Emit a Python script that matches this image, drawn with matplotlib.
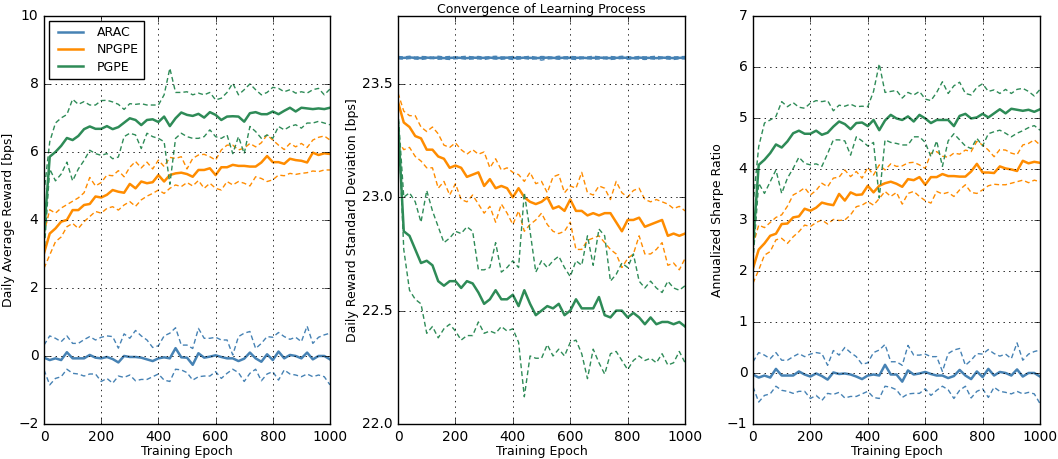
import numpy as np
import matplotlib
matplotlib.use("Agg")
import matplotlib.pyplot as plt

# epochs at which the learning curves were sampled
epochs = np.arange(0, 1001, 20)

# ---- Daily average reward [bps] ----
arac_rew = [-0.05, -0.12, -0.07, -0.12, 0.11, -0.07, -0.07, -0.07, 0.03, -0.05, -0.07, -0.03, -0.09,
            -0.19, 0.0, -0.03, -0.03, -0.05, -0.1, -0.15, -0.07, -0.04, -0.07, 0.23, -0.04, -0.05,
            -0.26, 0.08, -0.05, -0.02, 0.02, -0.03, -0.07, -0.07, -0.15, -0.08, 0.1, -0.07, -0.17,
            0.05, -0.12, 0.13, -0.07, 0.03, 0.0, -0.07, 0.1, -0.1, 0.0, 0.0, -0.1]
arac_rew_hi = [0.32, 0.59, 0.52, 0.42, 0.59, 0.37, 0.37, 0.48, 0.57, 0.47, 0.55, 0.59, 0.57, 0.23,
               0.65, 0.52, 0.75, 0.59, 0.47, 0.25, 0.3, 0.59, 0.67, 0.83, 0.32, 0.32, 0.22, 0.81,
               0.52, 0.52, 0.55, 0.47, 0.47, 0.03, 0.57, 0.67, 0.72, 0.22, 0.37, 0.57, 0.55, 0.69,
               0.57, 0.49, 0.55, 0.42, 0.88, 0.37, 0.55, 0.62, 0.67]
arac_rew_lo = [-0.41, -0.85, -0.66, -0.61, -0.39, -0.51, -0.53, -0.59, -0.53, -0.53, -0.75, -0.66,
               -0.8, -0.59, -0.63, -0.56, -0.73, -0.69, -0.69, -0.61, -0.53, -0.71, -0.75, -0.39,
               -0.41, -0.49, -0.71, -0.61, -0.59, -0.59, -0.46, -0.66, -0.51, -0.39, -0.49, -0.75,
               -0.51, -0.39, -0.73, -0.53, -0.46, -0.71, -0.41, -0.53, -0.56, -0.61, -0.53, -0.61,
               -0.56, -0.61, -0.85]
npgpe_rew = [3.02, 3.6, 3.75, 3.95, 4.0, 4.29, 4.29, 4.44, 4.47, 4.69, 4.66, 4.74, 4.88, 4.83, 4.8,
             5.06, 4.93, 5.13, 5.08, 5.11, 5.32, 5.13, 5.32, 5.37, 5.39, 5.35, 5.27, 5.47, 5.47, 5.52,
             5.32, 5.55, 5.55, 5.62, 5.59, 5.59, 5.57, 5.57, 5.69, 5.88, 5.7, 5.7, 5.65, 5.8, 5.76,
             5.74, 5.69, 5.98, 5.91, 5.96, 5.94]
npgpe_rew_hi = [3.6, 4.3, 4.2, 4.35, 4.45, 4.55, 4.65, 4.8, 5.25, 5.0, 5.1, 5.32, 5.3, 5.45, 5.27,
                5.55, 5.72, 5.53, 5.7, 5.5, 5.76, 5.57, 5.84, 5.81, 5.86, 5.5, 5.81, 5.91, 5.93, 5.86,
                5.76, 6.06, 6.2, 6.2, 6.06, 6.11, 6.25, 6.15, 6.27, 6.5, 6.35, 6.2, 6.07, 6.25, 6.15,
                6.25, 6.13, 6.35, 6.43, 6.47, 6.35]
npgpe_rew_lo = [2.58, 2.97, 3.36, 3.5, 3.8, 3.9, 3.75, 3.95, 4.1, 4.25, 4.2, 4.34, 4.39, 4.29, 4.44,
                4.54, 4.4, 4.59, 4.7, 4.78, 4.88, 4.78, 4.93, 5.03, 4.98, 5.1, 5.0, 5.16, 4.93, 5.08,
                4.93, 4.88, 5.13, 5.03, 5.13, 5.08, 5.0, 5.27, 5.22, 5.13, 5.18, 5.32, 5.3, 5.37, 5.34,
                5.37, 5.39, 5.44, 5.42, 5.47, 5.47]
pgpe_rew = [3.6, 5.86, 6.0, 6.18, 6.41, 6.35, 6.47, 6.67, 6.75, 6.68, 6.68, 6.76, 6.67, 6.73, 6.86,
            6.99, 6.94, 6.79, 6.94, 6.96, 6.88, 7.04, 6.76, 6.99, 7.16, 7.09, 7.06, 7.12, 7.01, 7.17,
            7.09, 6.94, 7.04, 7.05, 7.04, 6.89, 7.14, 7.17, 7.11, 7.11, 7.19, 7.11, 7.21, 7.3, 7.19,
            7.3, 7.28, 7.26, 7.28, 7.26, 7.3]
pgpe_rew_hi = [4.8, 6.3, 6.85, 7.0, 7.1, 7.55, 7.4, 7.48, 7.38, 7.38, 7.51, 7.52, 7.47, 7.4, 7.25,
               7.42, 7.4, 7.42, 7.38, 7.38, 7.38, 7.68, 8.46, 7.75, 7.75, 7.77, 7.68, 7.73, 7.68, 7.75,
               7.53, 7.58, 7.75, 8.02, 7.68, 7.83, 8.0, 7.83, 7.68, 7.75, 7.9, 7.87, 7.77, 7.83, 7.73,
               7.77, 7.73, 7.83, 7.87, 7.68, 7.85]
pgpe_rew_lo = [3.0, 5.5, 5.15, 5.35, 5.7, 5.15, 5.5, 5.75, 6.05, 5.95, 5.9, 5.95, 5.8, 5.85, 6.45,
               6.55, 6.5, 6.1, 6.55, 6.45, 6.4, 6.3, 5.05, 6.4, 6.55, 6.45, 6.4, 6.4, 6.45, 6.65, 6.45,
               6.4, 6.5, 5.95, 6.45, 5.95, 6.75, 6.6, 6.4, 6.5, 6.4, 6.75, 6.65, 6.75, 6.8, 6.7, 6.85,
               6.85, 6.9, 6.85, 6.8]

# ---- Daily reward standard deviation [bps] ----
arac_std = [23.616, 23.615, 23.617, 23.615, 23.614, 23.616, 23.615, 23.616, 23.614, 23.615, 23.616,
            23.615, 23.614, 23.616, 23.615, 23.615, 23.616, 23.614, 23.615, 23.616, 23.615, 23.614,
            23.616, 23.615, 23.614, 23.615, 23.616, 23.615, 23.614, 23.616, 23.615, 23.615, 23.616,
            23.614, 23.615, 23.616, 23.615, 23.614, 23.615, 23.616, 23.615, 23.614, 23.616, 23.615,
            23.615, 23.614, 23.616, 23.615, 23.614, 23.615, 23.616]
arac_std_hi = [23.621, 23.619, 23.622, 23.618, 23.621, 23.620, 23.618, 23.622, 23.619, 23.621,
               23.618, 23.620, 23.622, 23.619, 23.621, 23.618, 23.620, 23.622, 23.619, 23.618,
               23.621, 23.620, 23.619, 23.622, 23.618, 23.621, 23.620, 23.618, 23.622, 23.619,
               23.621, 23.620, 23.618, 23.619, 23.622, 23.620, 23.618, 23.621, 23.619, 23.622,
               23.620, 23.618, 23.621, 23.619, 23.620, 23.622, 23.618, 23.621, 23.619, 23.620, 23.621]
arac_std_lo = [23.611, 23.609, 23.612, 23.610, 23.608, 23.611, 23.612, 23.609, 23.610, 23.608,
               23.611, 23.612, 23.609, 23.610, 23.611, 23.608, 23.612, 23.610, 23.609, 23.611,
               23.608, 23.610, 23.612, 23.609, 23.611, 23.605, 23.610, 23.612, 23.609, 23.611,
               23.610, 23.608, 23.611, 23.612, 23.609, 23.610, 23.611, 23.608, 23.610, 23.612,
               23.609, 23.611, 23.610, 23.608, 23.611, 23.609, 23.612, 23.610, 23.608, 23.611, 23.610]
npgpe_std = [23.42, 23.33, 23.31, 23.27, 23.26, 23.21, 23.21, 23.18, 23.17, 23.13, 23.14, 23.13,
             23.09, 23.10, 23.11, 23.05, 23.08, 23.04, 23.05, 23.04, 23.0, 23.04, 23.0, 22.98, 22.97,
             22.98, 23.0, 22.95, 22.96, 22.94, 22.99, 22.94, 22.94, 22.92, 22.93, 22.92, 22.93, 22.93,
             22.89, 22.85, 22.9, 22.9, 22.91, 22.87, 22.88, 22.89, 22.9, 22.83, 22.84, 22.83, 22.84]
npgpe_std_hi = [23.46, 23.38, 23.36, 23.36, 23.31, 23.29, 23.31, 23.28, 23.23, 23.22, 23.24, 23.21,
                23.19, 23.21, 23.19, 23.2, 23.13, 23.17, 23.12, 23.13, 23.11, 23.10, 23.07, 23.11,
                23.06, 23.07, 23.02, 23.09, 23.10, 23.02, 23.05, 23.04, 23.11, 23.02, 23.01, 23.05,
                23.04, 22.99, 23.07, 23.02, 23.0, 23.03, 23.04, 22.99, 22.98, 22.99, 22.98, 22.97,
                22.95, 22.96, 22.94]
npgpe_std_lo = [23.25, 23.21, 23.22, 23.18, 23.16, 23.13, 23.13, 23.04, 23.07, 23.01, 23.06, 22.99,
                22.98, 23.01, 22.97, 22.93, 22.96, 22.89, 22.97, 22.93, 22.88, 22.94, 22.85, 22.88,
                22.9, 22.93, 22.88, 22.85, 22.84, 22.85, 22.89, 22.77, 22.77, 22.81, 22.82, 22.83,
                22.80, 22.77, 22.75, 22.69, 22.73, 22.75, 22.83, 22.75, 22.75, 22.77, 22.80, 22.70,
                22.71, 22.68, 22.73]
pgpe_std = [23.33, 22.85, 22.83, 22.77, 22.71, 22.72, 22.70, 22.63, 22.61, 22.63, 22.63, 22.60,
            22.63, 22.62, 22.58, 22.53, 22.55, 22.59, 22.55, 22.55, 22.57, 22.52, 22.59, 22.53, 22.48,
            22.5, 22.52, 22.51, 22.53, 22.48, 22.5, 22.55, 22.51, 22.51, 22.51, 22.56, 22.48, 22.47,
            22.5, 22.5, 22.47, 22.49, 22.47, 22.44, 22.47, 22.44, 22.45, 22.45, 22.44, 22.45, 22.43]
pgpe_std_hi = [23.38, 23.0, 23.02, 22.98, 22.89, 23.03, 22.94, 22.87, 22.80, 22.82, 22.85, 22.84,
               22.87, 22.85, 22.68, 22.68, 22.69, 22.80, 22.67, 22.69, 22.72, 22.69, 23.02, 22.85,
               22.67, 22.72, 22.69, 22.72, 22.74, 22.69, 22.65, 22.72, 22.70, 22.83, 22.70, 22.86,
               22.83, 22.63, 22.66, 22.71, 22.69, 22.75, 22.63, 22.60, 22.63, 22.60, 22.58, 22.63,
               22.60, 22.59, 22.61]
pgpe_std_lo = [23.37, 22.77, 22.59, 22.55, 22.53, 22.40, 22.43, 22.38, 22.42, 22.44, 22.41, 22.37,
               22.39, 22.39, 22.45, 22.40, 22.41, 22.40, 22.43, 22.41, 22.42, 22.36, 22.12, 22.30,
               22.29, 22.29, 22.35, 22.30, 22.33, 22.30, 22.36, 22.37, 22.31, 22.20, 22.33, 22.27,
               22.22, 22.31, 22.32, 22.28, 22.24, 22.28, 22.30, 22.28, 22.29, 22.27, 22.31, 22.26,
               22.27, 22.32, 22.27]

# ---- Annualized Sharpe ratio ----
arac_sr = [-0.03, -0.09, -0.05, -0.09, 0.08, -0.05, -0.05, -0.05, 0.03, -0.03, -0.07, -0.01, -0.06,
           -0.13, 0.01, -0.02, -0.01, -0.03, -0.07, -0.12, -0.05, -0.03, -0.05, 0.16, -0.03, -0.03,
           -0.17, 0.05, -0.03, -0.01, 0.02, -0.02, -0.05, -0.05, -0.1, -0.06, 0.06, -0.05, -0.12,
           0.03, -0.08, 0.08, -0.05, 0.02, 0.0, -0.05, 0.07, -0.07, 0.0, 0.0, -0.07]
arac_sr_hi = [0.22, 0.4, 0.35, 0.28, 0.4, 0.25, 0.25, 0.32, 0.38, 0.32, 0.37, 0.4, 0.38, 0.15, 0.44,
              0.35, 0.5, 0.4, 0.32, 0.17, 0.2, 0.4, 0.45, 0.56, 0.22, 0.22, 0.15, 0.54, 0.35, 0.35,
              0.37, 0.32, 0.32, 0.03, 0.38, 0.45, 0.48, 0.15, 0.25, 0.38, 0.37, 0.46, 0.38, 0.33,
              0.37, 0.28, 0.59, 0.25, 0.37, 0.42, 0.45]
arac_sr_lo = [-0.27, -0.57, -0.44, -0.41, -0.26, -0.34, -0.36, -0.4, -0.36, -0.36, -0.5, -0.44,
              -0.54, -0.4, -0.42, -0.38, -0.49, -0.46, -0.46, -0.41, -0.36, -0.48, -0.5, -0.26,
              -0.28, -0.33, -0.48, -0.41, -0.4, -0.4, -0.31, -0.44, -0.34, -0.26, -0.33, -0.5,
              -0.34, -0.26, -0.49, -0.36, -0.31, -0.48, -0.28, -0.36, -0.38, -0.41, -0.36, -0.41,
              -0.38, -0.41, -0.6]
npgpe_sr = [2.05, 2.42, 2.54, 2.69, 2.73, 2.92, 2.93, 3.05, 3.07, 3.22, 3.18, 3.24, 3.34, 3.31, 3.29,
            3.51, 3.38, 3.54, 3.49, 3.5, 3.67, 3.54, 3.67, 3.72, 3.75, 3.71, 3.65, 3.8, 3.78, 3.84,
            3.69, 3.84, 3.84, 3.9, 3.86, 3.86, 3.85, 3.85, 3.95, 4.1, 3.93, 3.93, 3.92, 4.05, 4.01,
            3.99, 3.96, 4.16, 4.11, 4.14, 4.12]
npgpe_sr_hi = [2.5, 2.9, 2.85, 2.95, 3.05, 3.1, 3.27, 3.49, 3.55, 3.63, 3.49, 3.58, 3.72, 3.65, 3.82,
               3.84, 3.98, 3.85, 3.95, 3.82, 4.03, 3.88, 4.08, 3.98, 4.1, 4.05, 4.06, 4.12, 4.13, 4.08,
               4.01, 4.31, 4.34, 4.25, 4.23, 4.31, 4.29, 4.37, 4.34, 4.54, 4.47, 4.37, 4.24, 4.38,
               4.37, 4.31, 4.28, 4.47, 4.5, 4.57, 4.47]
npgpe_sr_lo = [1.76, 2.02, 2.31, 2.38, 2.61, 2.64, 2.54, 2.67, 2.77, 2.9, 2.87, 2.95, 3.0, 2.92, 3.01,
               2.99, 3.0, 3.1, 3.26, 3.29, 3.36, 3.29, 3.42, 3.56, 3.46, 3.54, 3.31, 3.52, 3.56, 3.46,
               3.38, 3.33, 3.56, 3.51, 3.54, 3.46, 3.59, 3.69, 3.54, 3.52, 3.59, 3.67, 3.7, 3.69, 3.69,
               3.72, 3.75, 3.78, 3.73, 3.78, 3.75]
pgpe_sr = [2.5, 4.08, 4.18, 4.31, 4.48, 4.42, 4.54, 4.7, 4.75, 4.69, 4.69, 4.75, 4.67, 4.71, 4.83,
           4.93, 4.88, 4.78, 4.9, 4.91, 4.84, 4.96, 4.76, 4.95, 5.06, 4.99, 4.96, 5.03, 4.93, 5.06,
           4.99, 4.9, 4.96, 4.96, 4.96, 4.84, 5.04, 5.08, 4.99, 5.01, 5.08, 5.01, 5.09, 5.17, 5.09,
           5.18, 5.16, 5.14, 5.16, 5.12, 5.17]
pgpe_sr_hi = [3.3, 4.44, 4.9, 4.96, 5.03, 5.32, 5.22, 5.3, 5.21, 5.19, 5.29, 5.34, 5.32, 5.34, 5.14,
              5.25, 5.23, 5.27, 5.22, 5.23, 5.22, 5.52, 6.06, 5.5, 5.52, 5.54, 5.39, 5.5, 5.45, 5.52,
              5.37, 5.34, 5.5, 5.71, 5.48, 5.63, 5.7, 5.48, 5.45, 5.6, 5.67, 5.52, 5.55, 5.48, 5.56,
              5.48, 5.56, 5.58, 5.52, 5.43, 5.56]
pgpe_sr_lo = [2.2, 3.72, 3.52, 3.75, 3.98, 3.52, 3.82, 4.01, 4.23, 4.11, 4.08, 4.1, 4.05, 4.3, 4.57,
              4.57, 4.55, 4.27, 4.63, 4.55, 4.45, 4.52, 3.43, 4.57, 4.52, 4.5, 4.47, 4.47, 4.63, 4.63,
              4.52, 4.24, 4.55, 4.05, 4.55, 4.69, 4.57, 4.45, 4.4, 4.6, 4.45, 4.69, 4.73, 4.76, 4.7,
              4.63, 4.7, 4.75, 4.81, 4.85, 4.76]

names = ["ARAC", "NPGPE", "PGPE"]
colors = ["#4682B4", "#FF8C00", "#2E8B57"]

plt.style.use("classic")
plt.rcParams.update({
    "figure.facecolor": "white",
    "savefig.facecolor": "white",
    "font.family": "DejaVu Sans",
    "font.size": 9,
    "xtick.labelsize": 10,
    "ytick.labelsize": 10,
    "axes.labelsize": 9,
    "axes.titlesize": 9,
    "legend.fontsize": 9,
})


def draw(ax, series):
    for (mean, hi, lo), name, c in zip(series, names, colors):
        ax.plot(epochs, mean, color=c, lw=1.8, label=name)
        ax.plot(epochs, hi, color=c, lw=1.0, dashes=(3.5, 2.2))
        ax.plot(epochs, lo, color=c, lw=1.0, dashes=(3.5, 2.2))
    ax.set_xlim(0, 1000)
    ax.set_xticks(range(0, 1001, 200))
    ax.set_xlabel("Training Epoch", labelpad=1)
    ax.grid(True, color="k", linestyle=":", linewidth=0.6)


fig = plt.figure(figsize=(10.58, 4.59), dpi=100)
ax1 = fig.add_axes([0.0416, 0.0763, 0.2703, 0.889])
ax2 = fig.add_axes([0.3762, 0.0763, 0.2713, 0.889])
ax3 = fig.add_axes([0.7117, 0.0763, 0.2713, 0.889])

draw(ax1, [(arac_rew, arac_rew_hi, arac_rew_lo),
           (npgpe_rew, npgpe_rew_hi, npgpe_rew_lo),
           (pgpe_rew, pgpe_rew_hi, pgpe_rew_lo)])
ax1.set_ylim(-2, 10)
ax1.set_yticks(range(-2, 11, 2))
ax1.set_ylabel("Daily Average Reward [bps]", labelpad=2)
ax1.legend(loc="upper left", frameon=True, fancybox=False, handlelength=2.6,
           borderaxespad=0.4, labelspacing=0.35)

draw(ax2, [(arac_std, arac_std_hi, arac_std_lo),
           (npgpe_std, npgpe_std_hi, npgpe_std_lo),
           (pgpe_std, pgpe_std_hi, pgpe_std_lo)])
ax2.set_ylim(22.0, 23.8)
ax2.set_yticks([22.0, 22.5, 23.0, 23.5])
ax2.set_yticklabels(["22.0", "22.5", "23.0", "23.5"])
ax2.set_ylabel("Daily Reward Standard Deviation [bps]", labelpad=2)
ax2.set_title("Convergence of Learning Process", pad=2)

draw(ax3, [(arac_sr, arac_sr_hi, arac_sr_lo),
           (npgpe_sr, npgpe_sr_hi, npgpe_sr_lo),
           (pgpe_sr, pgpe_sr_hi, pgpe_sr_lo)])
ax3.set_ylim(-1, 7)
ax3.set_yticks(range(-1, 8))
ax3.set_ylabel("Annualized Sharpe Ratio", labelpad=2)

fig.savefig("out.png", dpi=100)
